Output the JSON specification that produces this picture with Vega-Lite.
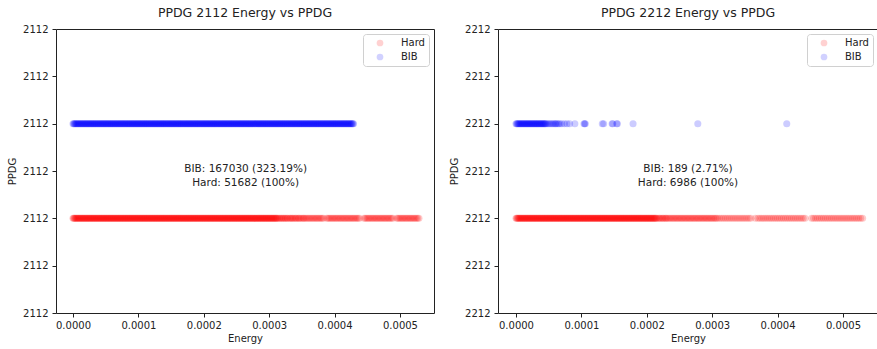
{
  "$schema": "https://vega.github.io/schema/vega-lite/v6.json",
  "padding": {"left": 6, "top": 6, "right": 0, "bottom": 0},
  "config": {
    "font": "DejaVu Sans",
    "view": {"stroke": "#222", "strokeWidth": 1},
    "axis": {"grid": false, "domain": false, "tickColor": "#222", "tickSize": 4, "labelFontSize": 10, "labelColor": "#222", "titleFontSize": 10, "titleFontWeight": "normal", "titleColor": "#222"},
    "title": {"fontSize": 12.5, "fontWeight": "normal", "color": "#222", "offset": 5},
    "legend": {"orient": "top-right", "offset": 5, "padding": 4, "strokeColor": "#d0d0d0", "fillColor": "white", "cornerRadius": 3, "labelFontSize": 10, "labelColor": "#222", "symbolSize": 45, "symbolOpacity": 0.18, "symbolType": "circle", "symbolStrokeWidth": 0, "rowPadding": 4, "symbolOffset": 8, "labelOffset": 16},
    "concat": {"spacing": 13}
  },
  "resolve": {"scale": {"color": "independent", "x": "independent", "y": "independent"}, "legend": {"color": "independent"}},
  "hconcat": [
    {
      "width": 378,
      "height": 284,
      "title": "PPDG 2112 Energy vs PPDG",
      "layer": [
        {
          "data": {"values": [
            {"series": "Hard", "energy": [0.000000,0.000001,0.000002,0.000003,0.000004,0.000005,0.000006,0.000007,0.000008,0.000009,0.000010,0.000011,0.000012,0.000013,0.000014,0.000015,0.000016,0.000017,0.000018,0.000019,0.000020,0.000021,0.000022,0.000023,0.000024,0.000025,0.000026,0.000027,0.000028,0.000029,0.000030,0.000031,0.000032,0.000033,0.000034,0.000035,0.000036,0.000037,0.000038,0.000039,0.000040,0.000041,0.000042,0.000043,0.000044,0.000045,0.000046,0.000047,0.000048,0.000049,0.000050,0.000051,0.000052,0.000053,0.000054,0.000055,0.000056,0.000057,0.000058,0.000059,0.000060,0.000061,0.000062,0.000063,0.000064,0.000065,0.000066,0.000067,0.000068,0.000069,0.000070,0.000071,0.000072,0.000073,0.000074,0.000075,0.000076,0.000077,0.000078,0.000079,0.000080,0.000081,0.000082,0.000083,0.000084,0.000085,0.000086,0.000087,0.000088,0.000089,0.000090,0.000091,0.000092,0.000093,0.000094,0.000095,0.000096,0.000097,0.000098,0.000099,0.000100,0.000101,0.000102,0.000103,0.000104,0.000105,0.000106,0.000107,0.000108,0.000109,0.000110,0.000111,0.000112,0.000113,0.000114,0.000115,0.000116,0.000117,0.000118,0.000119,0.000120,0.000121,0.000122,0.000123,0.000124,0.000125,0.000126,0.000127,0.000128,0.000129,0.000130,0.000131,0.000132,0.000133,0.000134,0.000135,0.000136,0.000137,0.000138,0.000139,0.000140,0.000141,0.000142,0.000143,0.000144,0.000145,0.000146,0.000147,0.000148,0.000149,0.000150,0.000151,0.000152,0.000153,0.000154,0.000155,0.000156,0.000157,0.000158,0.000159,0.000160,0.000161,0.000162,0.000163,0.000164,0.000165,0.000166,0.000167,0.000168,0.000169,0.000170,0.000171,0.000172,0.000173,0.000174,0.000175,0.000176,0.000177,0.000178,0.000179,0.000180,0.000181,0.000182,0.000183,0.000184,0.000185,0.000186,0.000187,0.000188,0.000189,0.000190,0.000191,0.000192,0.000193,0.000194,0.000195,0.000196,0.000197,0.000198,0.000199,0.000200,0.000201,0.000202,0.000203,0.000204,0.000205,0.000206,0.000207,0.000208,0.000209,0.000210,0.000211,0.000212,0.000213,0.000214,0.000215,0.000216,0.000217,0.000218,0.000219,0.000220,0.000221,0.000222,0.000223,0.000224,0.000225,0.000226,0.000227,0.000228,0.000229,0.000230,0.000231,0.000232,0.000233,0.000234,0.000235,0.000236,0.000237,0.000238,0.000239,0.000240,0.000241,0.000242,0.000243,0.000244,0.000245,0.000246,0.000247,0.000248,0.000249,0.000250,0.000251,0.000252,0.000253,0.000254,0.000255,0.000256,0.000257,0.000258,0.000259,0.000260,0.000261,0.000262,0.000263,0.000264,0.000265,0.000266,0.000267,0.000268,0.000269,0.000270,0.000271,0.000272,0.000273,0.000274,0.000275,0.000276,0.000277,0.000278,0.000279,0.000280,0.000281,0.000282,0.000283,0.000284,0.000285,0.000286,0.000287,0.000288,0.000289,0.000290,0.000291,0.000292,0.000293,0.000294,0.000295,0.000296,0.000297,0.000298,0.000299,0.000300,0.000301,0.000302,0.000303,0.000304,0.000305,0.000306,0.000307,0.000308,0.000309,0.000310,0.000311,0.000312,0.000313,0.000315,0.000316,0.000318,0.000319,0.000321,0.000322,0.000324,0.000325,0.000327,0.000328,0.000330,0.000332,0.000333,0.000335,0.000336,0.000338,0.000340,0.000341,0.000343,0.000345,0.000346,0.000348,0.000350,0.000352,0.000353,0.000355,0.000357,0.000359,0.000361,0.000363,0.000365,0.000367,0.000369,0.000371,0.000373,0.000375,0.000377,0.000379,0.000381,0.000383,0.000388,0.000390,0.000392,0.000394,0.000396,0.000398,0.000400,0.000402,0.000404,0.000406,0.000408,0.000410,0.000412,0.000414,0.000416,0.000418,0.000420,0.000422,0.000424,0.000426,0.000428,0.000430,0.000432,0.000434,0.000436,0.000438,0.000445,0.000447,0.000449,0.000451,0.000453,0.000455,0.000457,0.000459,0.000461,0.000463,0.000465,0.000467,0.000469,0.000471,0.000473,0.000475,0.000477,0.000479,0.000481,0.000483,0.000485,0.000487,0.000489,0.000495,0.000497,0.000499,0.000501,0.000503,0.000505,0.000507,0.000509,0.000511,0.000513,0.000515,0.000517,0.000519,0.000521,0.000523,0.000525,0.000527,0.000529]},
            {"series": "BIB", "energy": [0.000000,0.000001,0.000002,0.000003,0.000004,0.000005,0.000006,0.000007,0.000008,0.000009,0.000010,0.000011,0.000012,0.000013,0.000014,0.000015,0.000016,0.000017,0.000018,0.000019,0.000020,0.000021,0.000022,0.000023,0.000024,0.000025,0.000026,0.000027,0.000028,0.000029,0.000030,0.000031,0.000032,0.000033,0.000034,0.000035,0.000036,0.000037,0.000038,0.000039,0.000040,0.000041,0.000042,0.000043,0.000044,0.000045,0.000046,0.000047,0.000048,0.000049,0.000050,0.000051,0.000052,0.000053,0.000054,0.000055,0.000056,0.000057,0.000058,0.000059,0.000060,0.000061,0.000062,0.000063,0.000064,0.000065,0.000066,0.000067,0.000068,0.000069,0.000070,0.000071,0.000072,0.000073,0.000074,0.000075,0.000076,0.000077,0.000078,0.000079,0.000080,0.000081,0.000082,0.000083,0.000084,0.000085,0.000086,0.000087,0.000088,0.000089,0.000090,0.000091,0.000092,0.000093,0.000094,0.000095,0.000096,0.000097,0.000098,0.000099,0.000100,0.000101,0.000102,0.000103,0.000104,0.000105,0.000106,0.000107,0.000108,0.000109,0.000110,0.000111,0.000112,0.000113,0.000114,0.000115,0.000116,0.000117,0.000118,0.000119,0.000120,0.000121,0.000122,0.000123,0.000124,0.000125,0.000126,0.000127,0.000128,0.000129,0.000130,0.000131,0.000132,0.000133,0.000134,0.000135,0.000136,0.000137,0.000138,0.000139,0.000140,0.000141,0.000142,0.000143,0.000144,0.000145,0.000146,0.000147,0.000148,0.000149,0.000150,0.000151,0.000152,0.000153,0.000154,0.000155,0.000156,0.000157,0.000158,0.000159,0.000160,0.000161,0.000162,0.000163,0.000164,0.000165,0.000166,0.000167,0.000168,0.000169,0.000170,0.000171,0.000172,0.000173,0.000174,0.000175,0.000176,0.000177,0.000178,0.000179,0.000180,0.000181,0.000182,0.000183,0.000184,0.000185,0.000186,0.000187,0.000188,0.000189,0.000190,0.000191,0.000192,0.000193,0.000194,0.000195,0.000196,0.000197,0.000198,0.000199,0.000200,0.000201,0.000202,0.000203,0.000204,0.000205,0.000206,0.000207,0.000208,0.000209,0.000210,0.000211,0.000212,0.000213,0.000214,0.000215,0.000216,0.000217,0.000218,0.000219,0.000220,0.000221,0.000222,0.000223,0.000224,0.000225,0.000226,0.000227,0.000228,0.000229,0.000230,0.000231,0.000232,0.000233,0.000234,0.000235,0.000236,0.000237,0.000238,0.000239,0.000240,0.000241,0.000242,0.000243,0.000244,0.000245,0.000246,0.000247,0.000248,0.000249,0.000250,0.000251,0.000252,0.000253,0.000254,0.000255,0.000256,0.000257,0.000258,0.000259,0.000260,0.000261,0.000262,0.000263,0.000264,0.000265,0.000266,0.000267,0.000268,0.000269,0.000270,0.000271,0.000272,0.000273,0.000274,0.000275,0.000276,0.000277,0.000278,0.000279,0.000280,0.000281,0.000282,0.000283,0.000284,0.000285,0.000286,0.000287,0.000288,0.000289,0.000290,0.000291,0.000292,0.000293,0.000294,0.000295,0.000296,0.000297,0.000298,0.000299,0.000300,0.000301,0.000302,0.000303,0.000304,0.000305,0.000306,0.000307,0.000308,0.000309,0.000310,0.000311,0.000312,0.000313,0.000314,0.000315,0.000316,0.000317,0.000318,0.000319,0.000320,0.000321,0.000322,0.000323,0.000324,0.000325,0.000326,0.000327,0.000328,0.000329,0.000330,0.000331,0.000332,0.000333,0.000334,0.000335,0.000336,0.000337,0.000338,0.000339,0.000340,0.000341,0.000342,0.000343,0.000344,0.000345,0.000346,0.000347,0.000348,0.000349,0.000350,0.000351,0.000352,0.000353,0.000354,0.000355,0.000356,0.000357,0.000358,0.000359,0.000360,0.000361,0.000362,0.000363,0.000364,0.000365,0.000366,0.000367,0.000368,0.000369,0.000370,0.000371,0.000372,0.000373,0.000374,0.000375,0.000376,0.000377,0.000378,0.000379,0.000380,0.000381,0.000382,0.000383,0.000384,0.000385,0.000386,0.000387,0.000388,0.000389,0.000390,0.000391,0.000392,0.000393,0.000394,0.000395,0.000396,0.000397,0.000398,0.000399,0.000400,0.000401,0.000402,0.000403,0.000404,0.000405,0.000406,0.000407,0.000408,0.000409,0.000410,0.000411,0.000412,0.000413,0.000414,0.000415,0.000416,0.000417,0.000418,0.000419,0.000420,0.000421,0.000422,0.000423,0.000424,0.000425,0.000426,0.000427,0.000428,0.000429]}
          ]},
          "transform": [{"flatten": ["energy"]}],
          "mark": {"type": "point", "filled": true, "size": 50, "opacity": 0.2, "strokeWidth": 0, "clip": true},
          "encoding": {
            "x": {"field": "energy", "type": "quantitative", "scale": {"domain": [-0.000026, 0.000552], "nice": false, "zero": false}, "axis": {"values": [0, 0.0001, 0.0002, 0.0003, 0.0004, 0.0005], "format": ".4f", "title": "Energy", "labelPadding": 3, "titlePadding": 3}},
            "y": {"field": "series", "type": "ordinal", "scale": {"type": "point", "domain": ["t0", "t1", "BIB", "t3", "Hard", "t5", "t6"], "padding": 0}, "axis": {"labelExpr": "'2112'", "title": "PPDG", "labelPadding": 4, "titlePadding": 5, "minExtent": 34, "maxExtent": 34}},
            "color": {"field": "series", "type": "nominal", "scale": {"domain": ["Hard", "BIB"], "range": ["#ff0000", "#0000ff"]}, "legend": {"title": null}}
          }
        },
        {
          "data": {"values": [{"label": "BIB: 167030 (323.19%)\nHard: 51682 (100%)"}]},
          "mark": {"type": "text", "lineBreak": "\n", "fontSize": 10.5, "lineHeight": 14, "align": "center", "baseline": "middle", "dy": -2, "color": "#222"},
          "encoding": {
            "text": {"field": "label"},
            "x": {"datum": 0.000264, "type": "quantitative"},
            "y": {"datum": "t3", "type": "ordinal"}
          }
        }
      ]
    },
    {
      "width": 380,
      "height": 284,
      "title": "PPDG 2212 Energy vs PPDG",
      "layer": [
        {
          "data": {"values": [
            {"series": "Hard", "energy": [0.000000,0.000001,0.000002,0.000003,0.000004,0.000005,0.000006,0.000007,0.000008,0.000009,0.000010,0.000011,0.000012,0.000013,0.000014,0.000015,0.000016,0.000017,0.000018,0.000019,0.000020,0.000021,0.000022,0.000023,0.000024,0.000025,0.000026,0.000027,0.000028,0.000029,0.000030,0.000031,0.000032,0.000033,0.000034,0.000035,0.000036,0.000037,0.000038,0.000039,0.000040,0.000041,0.000042,0.000043,0.000044,0.000045,0.000046,0.000047,0.000048,0.000049,0.000050,0.000051,0.000052,0.000053,0.000054,0.000055,0.000056,0.000057,0.000058,0.000059,0.000060,0.000061,0.000062,0.000063,0.000064,0.000065,0.000066,0.000067,0.000068,0.000069,0.000070,0.000071,0.000072,0.000073,0.000074,0.000075,0.000076,0.000077,0.000078,0.000079,0.000080,0.000081,0.000082,0.000083,0.000084,0.000085,0.000086,0.000087,0.000088,0.000089,0.000090,0.000091,0.000092,0.000093,0.000094,0.000095,0.000096,0.000097,0.000098,0.000099,0.000100,0.000101,0.000102,0.000103,0.000104,0.000105,0.000106,0.000107,0.000108,0.000109,0.000110,0.000111,0.000112,0.000113,0.000114,0.000115,0.000116,0.000117,0.000118,0.000119,0.000120,0.000121,0.000122,0.000123,0.000124,0.000125,0.000126,0.000127,0.000128,0.000129,0.000130,0.000131,0.000132,0.000133,0.000134,0.000135,0.000136,0.000137,0.000138,0.000139,0.000140,0.000141,0.000142,0.000143,0.000144,0.000145,0.000146,0.000147,0.000148,0.000149,0.000150,0.000151,0.000152,0.000153,0.000154,0.000155,0.000156,0.000157,0.000158,0.000159,0.000160,0.000161,0.000162,0.000163,0.000164,0.000165,0.000166,0.000167,0.000168,0.000169,0.000170,0.000171,0.000172,0.000173,0.000174,0.000175,0.000176,0.000177,0.000178,0.000179,0.000180,0.000181,0.000182,0.000183,0.000184,0.000185,0.000186,0.000187,0.000188,0.000189,0.000190,0.000191,0.000192,0.000193,0.000194,0.000195,0.000196,0.000197,0.000198,0.000199,0.000200,0.000201,0.000202,0.000203,0.000204,0.000205,0.000206,0.000207,0.000208,0.000209,0.000210,0.000211,0.000212,0.000213,0.000214,0.000215,0.000217,0.000219,0.000220,0.000222,0.000224,0.000225,0.000227,0.000229,0.000230,0.000232,0.000234,0.000236,0.000238,0.000240,0.000242,0.000244,0.000246,0.000248,0.000250,0.000252,0.000254,0.000256,0.000258,0.000260,0.000262,0.000264,0.000266,0.000268,0.000270,0.000272,0.000274,0.000276,0.000278,0.000280,0.000282,0.000284,0.000286,0.000288,0.000290,0.000292,0.000294,0.000296,0.000298,0.000300,0.000302,0.000304,0.000306,0.000308,0.000311,0.000314,0.000317,0.000320,0.000323,0.000326,0.000329,0.000332,0.000335,0.000338,0.000341,0.000344,0.000347,0.000350,0.000353,0.000356,0.000359,0.000366,0.000370,0.000373,0.000376,0.000379,0.000382,0.000385,0.000388,0.000391,0.000394,0.000397,0.000400,0.000403,0.000406,0.000409,0.000412,0.000415,0.000418,0.000421,0.000424,0.000427,0.000430,0.000433,0.000436,0.000439,0.000442,0.000452,0.000455,0.000458,0.000461,0.000464,0.000467,0.000470,0.000473,0.000476,0.000479,0.000482,0.000485,0.000488,0.000491,0.000494,0.000497,0.000500,0.000503,0.000506,0.000509,0.000512,0.000515,0.000518,0.000521,0.000524,0.000527,0.000530]},
            {"series": "BIB", "energy": [0.000000,0.000001,0.000002,0.000003,0.000004,0.000005,0.000006,0.000007,0.000008,0.000009,0.000010,0.000011,0.000012,0.000013,0.000014,0.000015,0.000016,0.000017,0.000018,0.000019,0.000020,0.000021,0.000022,0.000023,0.000024,0.000025,0.000026,0.000027,0.000028,0.000029,0.000030,0.000031,0.000032,0.000033,0.000034,0.000035,0.000036,0.000037,0.000038,0.000039,0.000040,0.000041,0.000042,0.000043,0.000044,0.000045,0.000046,0.000048,0.000050,0.000052,0.000054,0.000056,0.000058,0.000060,0.000061,0.000063,0.000065,0.000067,0.000070,0.000074,0.000078,0.000082,0.000090,0.000104,0.000105,0.000106,0.000132,0.000134,0.000147,0.000148,0.000154,0.000155,0.000179,0.000278,0.000414]}
          ]},
          "transform": [{"flatten": ["energy"]}],
          "mark": {"type": "point", "filled": true, "size": 50, "opacity": 0.2, "strokeWidth": 0, "clip": true},
          "encoding": {
            "x": {"field": "energy", "type": "quantitative", "scale": {"domain": [-0.0000275, 0.0005535], "nice": false, "zero": false}, "axis": {"values": [0, 0.0001, 0.0002, 0.0003, 0.0004, 0.0005], "format": ".4f", "title": "Energy", "labelPadding": 3, "titlePadding": 3}},
            "y": {"field": "series", "type": "ordinal", "scale": {"type": "point", "domain": ["t0", "t1", "BIB", "t3", "Hard", "t5", "t6"], "padding": 0}, "axis": {"labelExpr": "'2212'", "title": "PPDG", "labelPadding": 4, "titlePadding": 5, "minExtent": 34, "maxExtent": 34}},
            "color": {"field": "series", "type": "nominal", "scale": {"domain": ["Hard", "BIB"], "range": ["#ff0000", "#0000ff"]}, "legend": {"title": null}}
          }
        },
        {
          "data": {"values": [{"label": "BIB: 189 (2.71%)\nHard: 6986 (100%)"}]},
          "mark": {"type": "text", "lineBreak": "\n", "fontSize": 10.5, "lineHeight": 14, "align": "center", "baseline": "middle", "dy": -2, "color": "#222"},
          "encoding": {
            "text": {"field": "label"},
            "x": {"datum": 0.000263, "type": "quantitative"},
            "y": {"datum": "t3", "type": "ordinal"}
          }
        }
      ]
    }
  ]
}
